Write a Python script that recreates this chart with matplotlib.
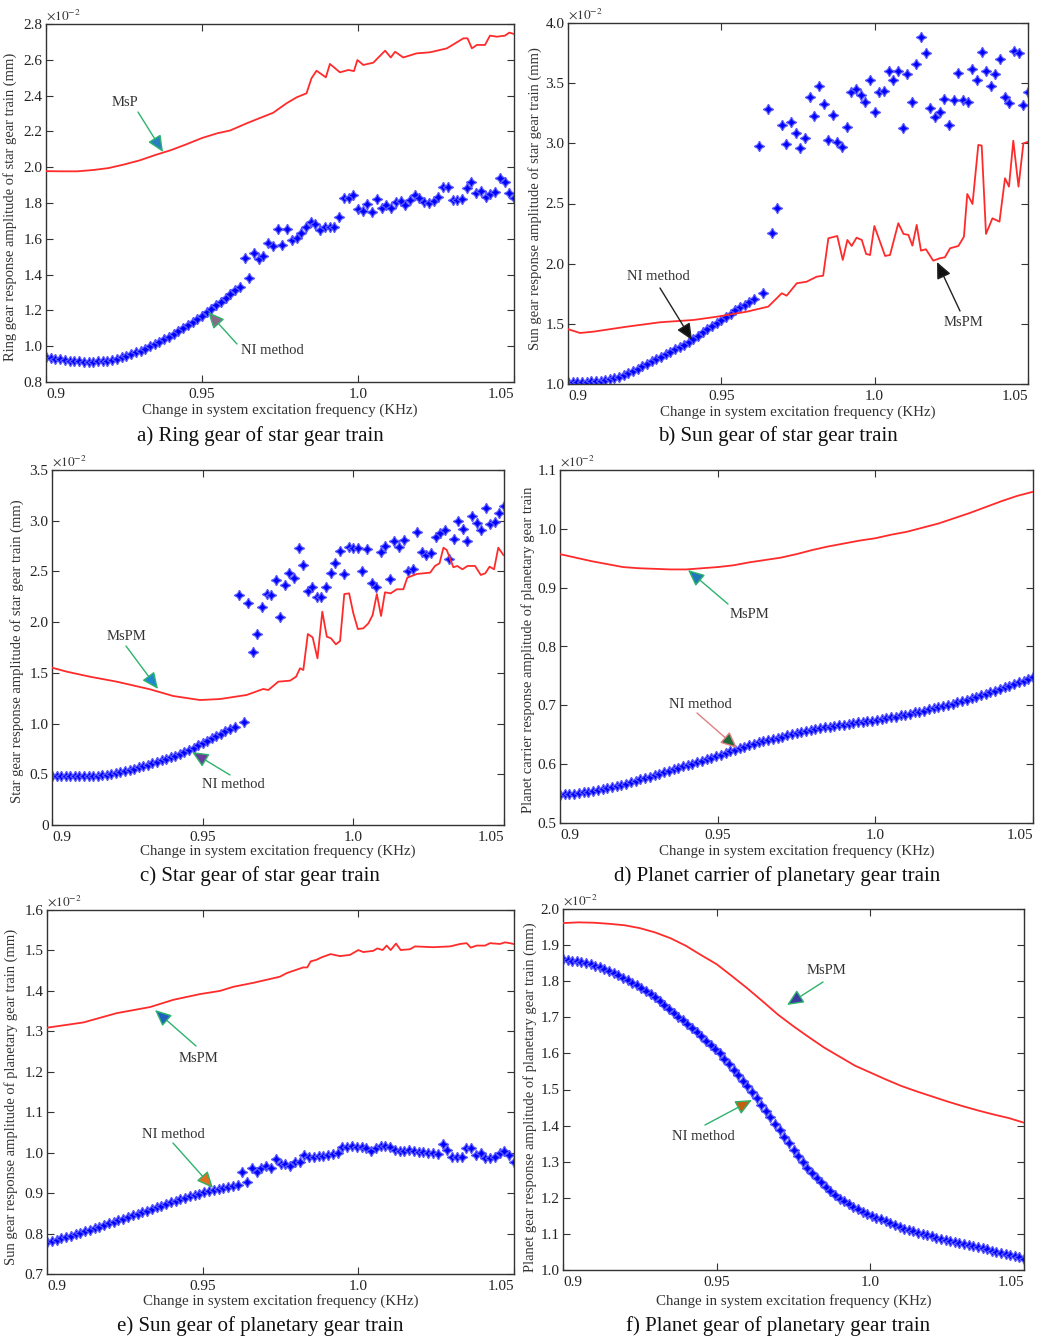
import numpy as np
import matplotlib.pyplot as plt

W, H = 1042, 1341
plt.rcParams['font.family'] = ['Liberation Serif', 'DejaVu Serif']
plt.rcParams['mathtext.fontset'] = 'stix'

# amplitudes in units of 1e-2 mm, frequency in KHz
# NI method markers: evenly spaced from 0.9 to 1.05
ni_a = [0.938, 0.934, 0.930, 0.926, 0.922, 0.919, 0.917, 0.915, 0.914, 0.914,
        0.914, 0.915, 0.917, 0.920, 0.925, 0.931, 0.938, 0.946, 0.955, 0.965,
        0.975, 0.987, 0.999, 1.012, 1.025, 1.039, 1.053, 1.068, 1.084, 1.100,
        1.117, 1.134, 1.152, 1.170, 1.189, 1.208, 1.228, 1.248, 1.270, 1.292,
        1.315, 1.332, 1.494, 1.379, 1.519, 1.486, 1.504, 1.578, 1.561, 1.655,
        1.565, 1.655, 1.593, 1.603, 1.631, 1.668, 1.696, 1.683, 1.649, 1.664,
        1.668, 1.668, 1.723, 1.826, 1.826, 1.845, 1.765, 1.755, 1.793, 1.751,
        1.821, 1.770, 1.789, 1.774, 1.807, 1.811, 1.789, 1.817, 1.845, 1.826,
        1.807, 1.798, 1.811, 1.835, 1.891, 1.891, 1.817, 1.817, 1.821, 1.882,
        1.919, 1.854, 1.869, 1.835, 1.850, 1.863, 1.938, 1.919, 1.858, 1.826]
ni_b = [1.018, 1.018, 1.018, 1.019, 1.020, 1.022, 1.025, 1.029, 1.035, 1.042,
        1.050, 1.061, 1.075, 1.090, 1.107, 1.127, 1.148, 1.170, 1.190, 1.210,
        1.228, 1.250, 1.270, 1.290, 1.305, 1.325, 1.350, 1.375, 1.403, 1.430,
        1.458, 1.483, 1.508, 1.534, 1.560, 1.585, 1.612, 1.638, 1.660, 1.685,
        1.705, 2.981, 1.754, 3.283, 2.253, 2.466, 3.153, 2.992, 3.181, 3.089,
        2.959, 3.042, 3.388, 3.228, 3.477, 3.328, 3.028, 3.239, 3.014, 2.973,
        3.134, 3.424, 3.452, 3.402, 3.347, 3.527, 3.263, 3.430, 3.436, 3.604,
        3.527, 3.604, 3.125, 3.574, 3.347, 3.657, 3.881, 3.748, 3.291, 3.222,
        3.263, 3.369, 3.153, 3.361, 3.583, 3.361, 3.347, 3.616, 3.527, 3.757,
        3.602, 3.477, 3.574, 3.702, 3.388, 3.333, 3.765, 3.754, 3.319, 3.424]
ni_c = [0.486, 0.486, 0.486, 0.486, 0.486, 0.486, 0.486, 0.486, 0.486, 0.486,
        0.487, 0.490, 0.496, 0.503, 0.512, 0.522, 0.533, 0.545, 0.557, 0.569,
        0.582, 0.595, 0.608, 0.622, 0.636, 0.651, 0.667, 0.685, 0.703, 0.722,
        0.742, 0.763, 0.785, 0.807, 0.830, 0.853, 0.876, 0.899, 0.922, 0.945,
        0.969, 2.268, 1.019, 2.186, 1.709, 1.883, 2.146, 2.277, 2.268, 2.415,
        2.054, 2.366, 2.481, 2.432, 2.728, 2.563, 2.310, 2.343, 2.251, 2.251,
        2.343, 2.488, 2.580, 2.701, 2.475, 2.744, 2.728, 2.728, 2.507, 2.721,
        2.383, 2.350, 2.695, 2.754, 2.425, 2.800, 2.738, 2.810, 2.507, 2.521,
        2.892, 2.695, 2.662, 2.685, 2.843, 2.876, 2.908, 2.620, 2.817, 2.997,
        2.915, 2.803, 3.049, 2.974, 2.908, 3.122, 2.964, 2.990, 3.073, 3.145]
ni_d = [0.548, 0.549, 0.549, 0.550, 0.551, 0.552, 0.553, 0.554, 0.556, 0.557,
        0.559, 0.561, 0.563, 0.565, 0.567, 0.570, 0.572, 0.574, 0.577, 0.579,
        0.582, 0.584, 0.587, 0.589, 0.592, 0.594, 0.597, 0.599, 0.601, 0.604,
        0.606, 0.609, 0.611, 0.614, 0.616, 0.619, 0.622, 0.624, 0.627, 0.630,
        0.633, 0.635, 0.637, 0.639, 0.641, 0.643, 0.645, 0.647, 0.649, 0.651,
        0.653, 0.655, 0.657, 0.658, 0.660, 0.661, 0.663, 0.664, 0.665, 0.666,
        0.667, 0.669, 0.670, 0.671, 0.672, 0.673, 0.674, 0.675, 0.677, 0.678,
        0.680, 0.681, 0.683, 0.684, 0.686, 0.688, 0.689, 0.691, 0.693, 0.695,
        0.697, 0.699, 0.701, 0.703, 0.705, 0.707, 0.709, 0.712, 0.714, 0.717,
        0.720, 0.723, 0.725, 0.728, 0.731, 0.733, 0.736, 0.739, 0.742, 0.745,
        0.749]
ni_e = [0.778, 0.781, 0.785, 0.788, 0.792, 0.795, 0.799, 0.802, 0.806, 0.810,
        0.813, 0.817, 0.821, 0.825, 0.829, 0.833, 0.837, 0.841, 0.845, 0.849,
        0.853, 0.857, 0.861, 0.865, 0.869, 0.873, 0.877, 0.881, 0.885, 0.889,
        0.893, 0.896, 0.899, 0.902, 0.905, 0.907, 0.909, 0.912, 0.914, 0.917,
        0.920, 0.953, 0.928, 0.963, 0.951, 0.963, 0.967, 0.961, 0.984, 0.972,
        0.972, 0.967, 0.978, 0.978, 0.994, 0.990, 0.990, 0.992, 0.992, 0.994,
        0.996, 1.000, 1.013, 1.013, 1.017, 1.015, 1.013, 1.011, 1.005, 1.012,
        1.017, 1.017, 1.013, 1.007, 1.005, 1.005, 1.007, 1.005, 1.001, 1.001,
        0.998, 0.998, 0.996, 1.021, 1.007, 0.989, 0.989, 0.989, 1.012, 1.012,
        0.993, 0.998, 0.986, 0.986, 0.990, 0.998, 1.005, 0.993, 0.976]
ni_f = [1.861, 1.859, 1.857, 1.855, 1.853, 1.850, 1.847, 1.843, 1.839, 1.834,
        1.828, 1.822, 1.816, 1.809, 1.803, 1.796, 1.789, 1.781, 1.772, 1.764,
        1.755, 1.744, 1.733, 1.722, 1.712, 1.702, 1.692, 1.681, 1.670, 1.658,
        1.647, 1.635, 1.623, 1.612, 1.600, 1.585, 1.570, 1.555, 1.540, 1.524,
        1.510, 1.494, 1.476, 1.458, 1.441, 1.423, 1.405, 1.387, 1.369, 1.351,
        1.333, 1.316, 1.299, 1.282, 1.268, 1.255, 1.243, 1.231, 1.219, 1.207,
        1.198, 1.190, 1.182, 1.175, 1.169, 1.162, 1.156, 1.150, 1.145, 1.140,
        1.135, 1.130, 1.125, 1.119, 1.114, 1.110, 1.107, 1.103, 1.100, 1.097,
        1.093, 1.090, 1.087, 1.084, 1.080, 1.077, 1.075, 1.072, 1.069, 1.066,
        1.063, 1.060, 1.057, 1.054, 1.051, 1.048, 1.045, 1.042, 1.038, 1.035,
        1.031]

# MsP / MsPM curves
msp_a_f = [0.900, 0.905, 0.910, 0.915, 0.920, 0.925, 0.930, 0.935, 0.940, 0.945,
           0.950, 0.955, 0.959, 0.9643, 0.9696, 0.9728, 0.9771, 0.9803, 0.9835,
           0.9851, 0.9867, 0.9897, 0.9910, 0.9942, 0.9969, 0.9987, 0.9998, 1.0017,
           1.0049, 1.0087, 1.0105, 1.0119, 1.0145, 1.0188, 1.0231, 1.0285, 1.0338,
           1.0351, 1.0365, 1.0381, 1.0407, 1.0423, 1.0445, 1.0471, 1.0485, 1.0500]
msp_a = [1.978, 1.977, 1.977, 1.984, 1.995, 2.015, 2.038, 2.068, 2.095, 2.128,
         2.163, 2.190, 2.205, 2.245, 2.282, 2.304, 2.357, 2.390, 2.413,
         2.497, 2.539, 2.502, 2.577, 2.530, 2.543, 2.537, 2.599, 2.571,
         2.584, 2.651, 2.613, 2.645, 2.613, 2.636, 2.642, 2.664, 2.720,
         2.720, 2.664, 2.683, 2.683, 2.735, 2.729, 2.735, 2.752, 2.744]
msp_b_f = [0.9001, 0.9039, 0.9083, 0.9191, 0.930, 0.9409, 0.9485, 0.9583, 0.9653,
           0.9697, 0.9713, 0.9746, 0.9778, 0.9811, 0.9832, 0.9849, 0.9878, 0.9896,
           0.9911, 0.9925, 0.9941, 0.9958, 0.9972, 0.9985, 0.9999, 1.0034, 1.0050,
           1.0077, 1.0094, 1.0110, 1.0123, 1.0137, 1.0151, 1.0167, 1.0191, 1.0213,
           1.0229, 1.0246, 1.0273, 1.0291, 1.0302, 1.0319, 1.0338, 1.0349, 1.0363,
           1.0384, 1.0407, 1.0425, 1.0438, 1.0452, 1.0469, 1.0485, 1.0502]
msp_b = [1.455, 1.424, 1.435, 1.476, 1.513, 1.532, 1.559, 1.601, 1.643,
         1.754, 1.734, 1.837, 1.850, 1.892, 1.900, 2.211, 2.230, 2.031,
         2.197, 2.147, 2.216, 2.197, 2.081, 2.072, 2.313, 2.064, 2.072,
         2.336, 2.247, 2.239, 2.150, 2.322, 2.108, 2.120, 2.025, 2.045,
         2.053, 2.128, 2.147, 2.224, 2.579, 2.496, 2.987, 2.981, 2.247,
         2.377, 2.349, 2.710, 2.640, 3.022, 2.640, 3.000, 3.014]
msp_c_f = [0.900, 0.905, 0.9126, 0.9215, 0.9325, 0.9402, 0.9491, 0.9558, 0.9646,
           0.9701, 0.9718, 0.9751, 0.9790, 0.9810, 0.9823, 0.9834, 0.9849, 0.9865,
           0.9881, 0.9897, 0.9912, 0.9926, 0.9942, 0.9956, 0.9970, 0.9986, 1.0000,
           1.0015, 1.0033, 1.0050, 1.0064, 1.0078, 1.0092, 1.0105, 1.0124, 1.0144,
           1.0166, 1.0179, 1.0211, 1.0255, 1.0271, 1.0286, 1.0299, 1.0310, 1.0332,
           1.0345, 1.0362, 1.0379, 1.0404, 1.0423, 1.0438, 1.0452, 1.0467, 1.0481,
           1.0498]
msp_c = [1.551, 1.511, 1.462, 1.413, 1.338, 1.272, 1.232, 1.242, 1.282,
         1.341, 1.331, 1.413, 1.423, 1.462, 1.545, 1.528, 1.883, 1.850,
         1.643, 2.103, 1.857, 1.840, 1.781, 1.814, 2.277, 2.284, 2.087,
         1.932, 1.939, 1.988, 2.070, 2.277, 2.061, 2.294, 2.284, 2.324,
         2.324, 2.438, 2.475, 2.488, 2.554, 2.580, 2.734, 2.711, 2.541,
         2.554, 2.521, 2.554, 2.554, 2.465, 2.482, 2.547, 2.521, 2.734,
         2.662]
msp_d = [0.957, 0.951, 0.945, 0.940, 0.935, 0.933, 0.932, 0.931, 0.931, 0.933,
         0.935, 0.938, 0.943, 0.947, 0.951, 0.957, 0.964, 0.970, 0.975, 0.980,
         0.984, 0.990, 0.995, 1.002, 1.009, 1.018, 1.027, 1.037, 1.047, 1.056,
         1.063]
msp_e_f = [0.900, 0.9117, 0.9224, 0.9331, 0.9406, 0.9491, 0.9556, 0.9598, 0.9663,
           0.9748, 0.9770, 0.9823, 0.9836, 0.9847, 0.9866, 0.9882, 0.9911, 0.9941,
           0.9973, 1.0000, 1.0016, 1.0048, 1.0061, 1.0078, 1.0091, 1.0104, 1.0121,
           1.0136, 1.0166, 1.0182, 1.0241, 1.0295, 1.0327, 1.0348, 1.0361, 1.0380,
           1.0407, 1.0423, 1.0455, 1.0471, 1.0487, 1.0498]
msp_e = [1.309, 1.322, 1.345, 1.360, 1.378, 1.392, 1.400, 1.410, 1.420,
         1.435, 1.444, 1.458, 1.458, 1.473, 1.477, 1.483, 1.491, 1.486,
         1.489, 1.501, 1.496, 1.499, 1.505, 1.501, 1.512, 1.501, 1.517,
         1.501, 1.503, 1.510, 1.508, 1.510, 1.516, 1.518, 1.507, 1.512,
         1.512, 1.518, 1.516, 1.520, 1.518, 1.516]
msp_f = [1.961, 1.963, 1.962, 1.959, 1.955, 1.947, 1.935, 1.919, 1.898, 1.872,
         1.847, 1.814, 1.780, 1.744, 1.707, 1.675, 1.645, 1.616, 1.591, 1.566,
         1.547, 1.528, 1.510, 1.495, 1.481, 1.467, 1.454, 1.442, 1.431, 1.421,
         1.408]
grid_005 = np.linspace(0.9, 1.05, 31)

titles = ['a) Ring gear of star gear train', 'b) Sun gear of star gear train',
          'c) Star gear of star gear train', 'd) Planet carrier of planetary gear train',
          'e) Sun gear of planetary gear train', 'f) Planet gear of planetary gear train']
ylabels = ['Ring gear response amplitude of star gear train (mm)',
           'Sun gear response amplitude of star gear train (mm)',
           'Star gear response amplitude of star gear train (mm)',
           'Planet carrier response amplitude of planetary gear train',
           'Sun gear response amplitude of planetary gear train (mm)',
           'Planet gear response amplitude of planetary gear train (mm)']
yticks = [[0.8, 1.0, 1.2, 1.4, 1.6, 1.8, 2.0, 2.2, 2.4, 2.6, 2.8],
          [1.0, 1.5, 2.0, 2.5, 3.0, 3.5, 4.0],
          [0, 0.5, 1.0, 1.5, 2.0, 2.5, 3.0, 3.5],
          [0.5, 0.6, 0.7, 0.8, 0.9, 1.0, 1.1],
          [0.7, 0.8, 0.9, 1.0, 1.1, 1.2, 1.3, 1.4, 1.5, 1.6],
          [1.0, 1.1, 1.2, 1.3, 1.4, 1.5, 1.6, 1.7, 1.8, 1.9, 2.0]]
xticks = [0.9, 0.95, 1.0, 1.05]
xticklabels = ['0.9', '0.95', '1.0', '1.05']
xlabel = 'Change in system excitation frequency (KHz)'

ni_sets = [ni_a, ni_b, ni_c, ni_d, ni_e, ni_f]
msp_sets = [(msp_a_f, msp_a), (msp_b_f, msp_b), (msp_c_f, msp_c),
            (grid_005, msp_d), (msp_e_f, msp_e), (grid_005, msp_f)]

# layout (reference pixels)
rects = [(46, 24, 514, 382), (568, 23, 1028, 384), (52, 470, 504, 825),
         (560, 470, 1033, 823), (47, 910, 514, 1274), (563, 909, 1024, 1270)]
title_pos = [(260, 436), (778, 436), (260, 876), (777, 876), (260, 1326), (778, 1326)]
ylab_pos = [(-0.062, 0.49), (-0.0565, 0.515), (-0.062, 0.49),
            (-0.053, 0.49), (-0.062, 0.486), (-0.056, 0.478)]
xlab_y = [-0.0587, -0.058, -0.0535, -0.0595, -0.055, -0.066]

green = '#2db36b'
# (label, text pos, tail, tip, shaft colour, head colour)
notes = [
    [('MsP', (125, 102), (138, 112), (163, 152), green, '#2a7fc0'),
     ('NI method', (272, 351), (237, 344), (208, 312), green, '#8a6a8a')],
    [('NI method', (658, 277), (660, 288), (692, 340), '#222222', '#111111'),
     ('MsPM', (963, 322), (960, 311), (937, 262), '#222222', '#111111')],
    [('MsPM', (126, 636), (126, 646), (158, 689), green, '#1e88d0'),
     ('NI method', (233, 784), (230, 775), (192, 752), green, '#6a3d9a')],
    [('MsPM', (749, 614), (728, 604), (688, 570), green, '#2277bb'),
     ('NI method', (700, 704), (697, 713), (737, 748), '#e08080', '#1f6b3a')],
    [('MsPM', (198, 1058), (196, 1046), (155, 1010), green, '#2060c0'),
     ('NI method', (173, 1134), (173, 1143), (213, 1188), green, '#e07020')],
    [('MsPM', (826, 970), (823, 982), (787, 1005), green, '#3a3aa0'),
     ('NI method', (703, 1137), (705, 1125), (752, 1100), green, '#c06010')],
]


def fp(p):
    return (p[0], H - p[1])


fig = plt.figure(figsize=(W / 100, H / 100), dpi=100)

for k in range(6):
    x0, y0, x1, y1 = rects[k]
    ax = fig.add_axes([x0 / W, 1 - y1 / H, (x1 - x0) / W, (y1 - y0) / H])
    ni = ni_sets[k]
    f_ni = np.linspace(0.9, 1.05, len(ni))
    ax.plot(f_ni, ni, ls='none', marker=(4, 1, 0), ms=7.5, mfc='#0000ff',
            mec='#5a5aff', mew=0.9, zorder=2)
    mf, mv = msp_sets[k]
    ax.plot(mf, mv, color='#ff2b2b', lw=1.3, zorder=3)

    ax.set_xlim(0.9, 1.05)
    yt = yticks[k]
    ax.set_ylim(yt[0], yt[-1])
    ax.set_xticks(xticks)
    ax.set_xticklabels(xticklabels)
    ax.set_yticks(yt)
    ax.set_yticklabels(['0' if v == 0 else '%.1f' % v for v in yt])
    tl = ax.get_xticklabels()
    tl[0].set_ha('left')
    tl[-1].set_ha('right')
    ax.tick_params(direction='in', top=True, right=True, length=5, width=0.8,
                   labelsize=11, colors='#333333', labelcolor='#222222')
    ax.tick_params(axis='x', pad=4)
    ax.tick_params(axis='y', pad=2.5)
    for s in ax.spines.values():
        s.set_linewidth(1.0)
        s.set_color('#333333')

    ax.set_xlabel(xlabel, fontsize=10.8, color='#333333')
    ax.xaxis.set_label_coords(0.5, xlab_y[k])
    ax.set_ylabel(ylabels[k], fontsize=10.5, color='#333333')
    ax.yaxis.set_label_coords(*ylab_pos[k])
    ax.text(0.0, 1.004, r'$\times10^{-2}$', transform=ax.transAxes, ha='left',
            va='bottom', fontsize=9.5, color='#333333')

    for label, tpos, tail, tip, shaft, head in notes[k]:
        ax.annotate('', xy=fp(tip), xycoords='figure pixels', xytext=fp(tail),
                    textcoords='figure pixels',
                    arrowprops=dict(arrowstyle='-|>,head_length=1.0,head_width=0.45',
                                    lw=1.0, ec=shaft, fc=head, shrinkA=0, shrinkB=0,
                                    mutation_scale=10))
        ax.annotate(label, xy=fp(tpos), xycoords='figure pixels', ha='center',
                    va='center', fontsize=10.5, color='#333333')

    tx, ty = title_pos[k]
    fig.text(tx / W, 1 - ty / H, titles[k], ha='center', va='center',
             fontsize=15, color='#111111')

fig.savefig('out.png', dpi=100)
